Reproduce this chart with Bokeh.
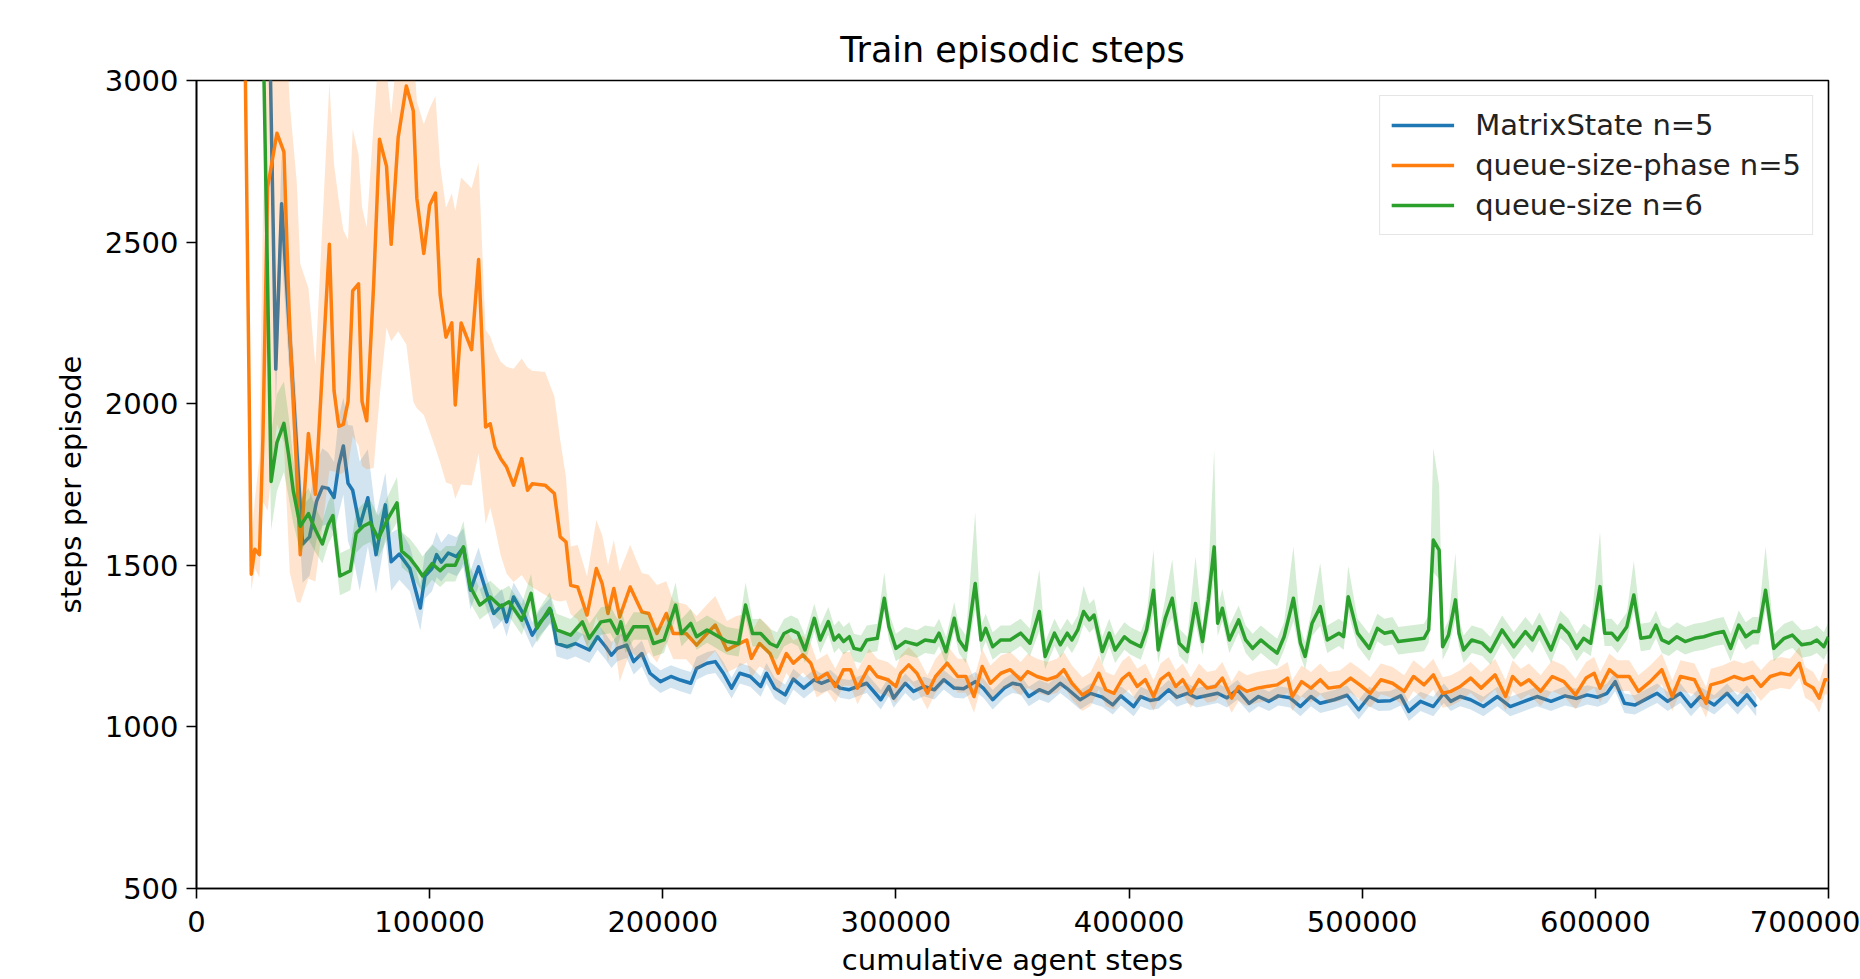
from bokeh.plotting import figure
from bokeh.models import FixedTicker, BasicTickFormatter
from bokeh.embed import file_html
from bokeh.resources import INLINE

TITLE = "Train episodic steps"
X_LABEL = "cumulative agent steps"
Y_LABEL = "steps per episode"
x_ticks = [0, 100000, 200000, 300000, 400000, 500000, 600000, 700000]
y_ticks = [500, 1000, 1500, 2000, 2500, 3000]
names = ["MatrixState n=5", "queue-size-phase n=5", "queue-size n=6"]
colors = ["#1f77b4", "#ff7f0e", "#2ca02c"]

# ---------------- MatrixState n=5 (blue) ----------------
blue_x = [
    30000, 34000, 36500, 45500, 48500, 51500, 54000, 56500, 59000, 61000,
    63000, 65000, 67000, 70000, 73500, 77000, 81000, 83500, 87000, 91500,
    96000, 98000, 101000, 103000, 105000, 108000, 111500, 114500, 117500, 121000,
    124500, 127500, 131000, 133000, 136000, 140500, 144000, 147500, 152000, 154500,
    159000, 162500, 165500, 168500, 172000, 175500, 178000, 180500, 184500, 187500,
    191000, 194500, 199000, 203500, 207500, 212000, 214500, 219000, 222500, 226000,
    229500, 233000, 237500, 242000, 244500, 248000, 252500, 256000, 260500, 265000,
    268000, 272000, 276000, 280000, 283500, 287500, 293500, 297000, 299000, 304000,
    307500, 312000, 316500, 320500, 325000, 329000, 334000, 337500, 341500, 346500,
    350000, 353500, 357000, 361500, 365500, 370500, 374000, 379000, 383500, 388500,
    393000, 396500, 402000, 405000, 409000, 412500, 417000, 420500, 425000, 429000,
    433500, 438000, 442000, 446500, 451500, 455500, 460000, 464000, 469000, 473500,
    478000, 482000, 488000, 493500, 498500, 503000, 507000, 512000, 516500, 520000,
    525000, 530500, 535000, 538000, 542000, 546500, 552000, 558000, 563500, 569500,
    575000, 581000, 587000, 592000, 596500, 601000, 605000, 608500, 612500, 617000,
    622500, 626500, 631000, 636500, 641000, 645000, 651000, 656500, 661000, 665000,
    669000,
]
blue_y = [
    3700, 2107, 2619, 1566, 1588, 1698, 1742, 1738, 1710, 1810,
    1869, 1754, 1732, 1621, 1709, 1533, 1687, 1511, 1535, 1490,
    1368, 1467, 1490, 1533, 1510, 1538, 1527, 1555, 1423, 1495,
    1413, 1351, 1377, 1325, 1402, 1346, 1284, 1325, 1361, 1258,
    1248, 1258, 1248, 1238, 1279, 1248, 1222, 1243, 1253, 1202,
    1227, 1166, 1140, 1156, 1145, 1135, 1181, 1197, 1202, 1166,
    1120, 1166, 1156, 1125, 1166, 1120, 1099, 1148, 1120, 1146,
    1135, 1146, 1120, 1115, 1125, 1135, 1084, 1125, 1089, 1135,
    1110, 1125, 1115, 1146, 1120, 1118, 1140, 1120, 1084, 1120,
    1135, 1130, 1094, 1115, 1104, 1135, 1115, 1084, 1104, 1092,
    1068, 1096, 1063, 1094, 1082, 1086, 1115, 1092, 1104, 1090,
    1097, 1104, 1090, 1115, 1073, 1094, 1079, 1096, 1090, 1063,
    1094, 1073, 1084, 1098, 1053, 1094, 1079, 1081, 1096, 1048,
    1079, 1063, 1104, 1079, 1094, 1084, 1063, 1094, 1063, 1079,
    1094, 1079, 1096, 1088, 1099, 1092, 1104, 1140, 1073, 1068,
    1089, 1104, 1079, 1104, 1063, 1094, 1068, 1104, 1068, 1099,
    1063,
]
blue_err = [
    80, 120, 150, 120, 120, 120, 120, 110, 110, 150,
    150, 180, 200, 200, 150, 120, 100, 90, 80, 70,
    70, 70, 70, 70, 60, 60, 60, 60, 60, 60,
    50, 50, 50, 45, 45, 45, 40, 40, 40, 40,
    40, 40, 40, 40, 40, 40, 40, 40, 40, 40,
    40, 35, 35, 35, 35, 35, 35, 35, 35, 35,
    32, 32, 32, 32, 32, 32, 32, 32, 32, 32,
    30, 30, 30, 30, 30, 30, 30, 30, 30, 30,
    30, 30, 30, 30, 30, 30, 30, 30, 30, 30,
    30, 30, 30, 30, 30, 30, 30, 30, 30, 30,
    30, 30, 30, 30, 30, 30, 30, 30, 30, 30,
    30, 30, 30, 30, 30, 30, 30, 30, 30, 30,
    30, 30, 30, 30, 30, 30, 30, 30, 30, 30,
    30, 30, 30, 30, 30, 30, 30, 30, 30, 30,
    30, 30, 30, 30, 30, 30, 30, 30, 30, 30,
    30, 30, 30, 30, 30, 30, 30, 30, 30, 30,
    30,
]

# ---------------- queue-size-phase n=5 (orange) ----------------
orange_x = [
    20000, 23500, 25000, 27000, 28500, 30500, 34500, 37500, 40000, 43000,
    44500, 48000, 51000, 57000, 59000, 61000, 63000, 65000, 67000, 69500,
    71000, 73000, 76000, 78500, 81500, 83500, 86500, 90000, 93000, 94500,
    97500, 100000, 102500, 104500, 107000, 109500, 111000, 113500, 118000, 121000,
    124000, 126000, 128000, 130500, 133000, 136000, 139500, 142000, 144000, 149500,
    153500, 156000, 158500, 160500, 163500, 167500, 171500, 174000, 176500, 179000,
    181500, 186000, 191000, 194000, 197500, 201500, 204500, 210000, 214500, 219000,
    222500, 227500, 231500, 236000, 238000, 241500, 246000, 249500, 253000, 256000,
    260000, 263500, 266000, 270500, 274000, 277500, 280500, 283500, 288500, 292000,
    296500, 300000, 302000, 305500, 309000, 313500, 317000, 322000, 326500, 330000,
    333500, 337000, 340500, 345000, 349000, 353500, 356500, 360500, 365000, 369000,
    372000, 375500, 380000, 383500, 387000, 390000, 393500, 397000, 400000, 403500,
    407000, 410500, 413500, 417000, 420000, 423000, 426500, 430000, 433500, 437000,
    440000, 444000, 447000, 450500, 455000, 459000, 463500, 468000, 470000, 474000,
    478000, 482000, 485500, 490500, 495000, 499000, 503500, 508000, 513000, 518000,
    522000, 526500, 530500, 534500, 538000, 542000, 546500, 551000, 557000, 561500,
    564500, 568000, 571500, 576500, 581500, 586500, 591500, 596000, 599500, 602000,
    606000, 609500, 614500, 618500, 623500, 628500, 633000, 636500, 642500, 647500,
    649500, 654500, 659500, 663500, 667500, 671000, 675000, 679500, 683500, 687500,
    690000, 693500, 696000, 698500, 700000,
]
orange_y = [
    3600, 1472, 1550, 1533, 1897, 2669, 2837, 2779, 2228, 1787,
    1533, 1908, 1720, 2493, 2040, 1930, 1936, 2007, 2349, 2371,
    2007, 1947, 2371, 2818, 2735, 2493, 2824, 2983, 2906, 2636,
    2465, 2614, 2652, 2338, 2206, 2250, 1996, 2250, 2167, 2446,
    1928, 1938, 1866, 1830, 1804, 1748, 1830, 1732, 1752, 1748,
    1722, 1588, 1572, 1438, 1433, 1346, 1490, 1443, 1351, 1428,
    1340, 1433, 1356, 1351, 1289, 1351, 1289, 1289, 1253, 1289,
    1315, 1238, 1253, 1269, 1212, 1258, 1227, 1166, 1227, 1197,
    1223, 1197, 1146, 1166, 1125, 1177, 1177, 1120, 1187, 1156,
    1146, 1125, 1166, 1192, 1166, 1104, 1156, 1197, 1156, 1156,
    1094, 1187, 1135, 1166, 1177, 1146, 1171, 1156, 1146, 1156,
    1177, 1135, 1099, 1115, 1166, 1115, 1104, 1148, 1166, 1125,
    1146, 1094, 1146, 1166, 1125, 1146, 1104, 1146, 1120, 1125,
    1151, 1089, 1125, 1110, 1120, 1125, 1130, 1151, 1094, 1140,
    1120, 1146, 1120, 1125, 1151, 1130, 1104, 1146, 1135, 1110,
    1156, 1130, 1161, 1104, 1110, 1125, 1151, 1120, 1161, 1094,
    1156, 1130, 1146, 1110, 1156, 1140, 1099, 1151, 1166, 1120,
    1177, 1156, 1156, 1110, 1140, 1177, 1094, 1156, 1146, 1073,
    1130, 1140, 1156, 1146, 1156, 1125, 1156, 1166, 1161, 1197,
    1135, 1120, 1089, 1146, 1146,
]
orange_err_lo = [
    100, 50, 60, 70, 200, 1000, 900, 900, 750, 400,
    150, 450, 270, 700, 250, 150, 150, 200, 450, 500,
    200, 150, 570, 800, 500, 300, 600, 800, 900, 650,
    500, 700, 790, 520, 450, 500, 290, 500, 420, 600,
    300, 260, 250, 300, 330, 300, 360, 290, 320, 340,
    330, 200, 180, 90, 100, 100, 150, 150, 150, 150,
    200, 200, 150, 120, 90, 90, 80, 80, 80, 80,
    80, 70, 70, 70, 60, 70, 60, 60, 60, 60,
    55, 55, 55, 55, 50, 50, 50, 50, 50, 50,
    50, 50, 50, 50, 50, 50, 50, 50, 50, 50,
    50, 50, 50, 50, 50, 50, 50, 50, 50, 50,
    50, 50, 50, 50, 50, 50, 50, 50, 50, 50,
    45, 45, 45, 45, 45, 45, 45, 45, 45, 45,
    45, 45, 45, 45, 45, 45, 45, 45, 45, 45,
    45, 45, 45, 45, 45, 45, 45, 45, 45, 45,
    45, 45, 45, 45, 45, 45, 45, 45, 45, 45,
    45, 45, 45, 45, 45, 45, 45, 45, 45, 45,
    45, 45, 45, 45, 45, 45, 45, 45, 45, 45,
    45, 45, 45, 45, 45, 45, 45, 45, 45, 45,
    45, 45, 45, 45, 45,
]
orange_err_hi = [
    200, 100, 150, 300, 700, 500, 500, 500, 700, 900,
    900, 450, 400, 500, 700, 700, 600, 500, 500, 400,
    600, 600, 500, 300, 300, 400, 300, 200, 200, 300,
    400, 300, 300, 400, 400, 400, 600, 450, 500, 300,
    300, 270, 300, 300, 310, 360, 310, 380, 350, 350,
    300, 300, 200, 120, 130, 120, 150, 150, 150, 150,
    140, 130, 120, 120, 150, 100, 100, 90, 90, 90,
    90, 90, 90, 80, 80, 80, 80, 70, 70, 70,
    60, 60, 60, 60, 55, 55, 55, 55, 55, 55,
    55, 55, 55, 55, 55, 55, 55, 55, 55, 55,
    55, 55, 55, 55, 55, 55, 55, 55, 55, 55,
    55, 55, 55, 55, 55, 55, 55, 55, 55, 55,
    50, 50, 50, 50, 50, 50, 50, 50, 50, 50,
    50, 50, 50, 50, 50, 50, 50, 50, 50, 50,
    50, 50, 50, 50, 50, 50, 50, 50, 50, 50,
    50, 50, 50, 50, 50, 50, 50, 50, 50, 50,
    50, 50, 50, 50, 50, 50, 50, 50, 50, 50,
    50, 50, 50, 50, 50, 50, 50, 50, 50, 50,
    50, 50, 50, 50, 50, 50, 50, 50, 50, 50,
    50, 50, 50, 50, 50,
]

# ---------------- queue-size n=6 (green) ----------------
green_x = [
    27000, 32000, 34500, 37500, 39500, 41500, 44500, 48000, 51000, 54000,
    56500, 58500, 61500, 66000, 68500, 71500, 74500, 78000, 82000, 86000,
    88000, 91500, 94500, 97000, 101000, 104500, 107000, 111000, 114500, 117500,
    121500, 126000, 130500, 134000, 139500, 143500, 146000, 151500, 154500, 160500,
    165500, 168500, 173500, 177500, 180500, 182000, 184000, 187500, 193500, 196000,
    200500, 205500, 208000, 212000, 214500, 219000, 224000, 227500, 232500, 235500,
    238500, 242000, 246000, 249000, 252000, 255000, 258000, 261000, 265000, 267500,
    271000, 273500, 275500, 277500, 280000, 282000, 285000, 287500, 292000, 295000,
    297000, 300000, 304000, 309000, 312500, 316500, 318500, 321500, 325000, 327000,
    330000, 334000, 336500, 338500, 341500, 345000, 349000, 353500, 357500, 361500,
    364000, 368000, 370500, 373500, 375500, 378000, 380500, 383000, 385000, 388500,
    391500, 394000, 398000, 400500, 405000, 407500, 410500, 412500, 415500, 418500,
    421500, 425000, 428500, 431500, 434000, 436500, 438000, 440000, 443000, 447000,
    450000, 453000, 456500, 460000, 463500, 466500, 470500, 473500, 475500, 478500,
    482000, 485000, 490000, 492000, 494000, 498000, 503000, 506500, 509500, 513000,
    515500, 520500, 526500, 528500, 530500, 533000, 534500, 537000, 540000, 541500,
    543500, 547000, 551500, 555000, 560000, 565000, 570000, 573000, 576000, 581000,
    585000, 588500, 592000, 595000, 598000, 602000, 604000, 607000, 609500, 613500,
    616500, 619500, 623500, 626000, 628500, 631500, 635000, 638500, 642500, 646500,
    651500, 655000, 658000, 661500, 664500, 667500, 670000, 673000, 676500, 681000,
    684500, 688500, 692500, 695000, 698000, 700000,
]
green_y = [
    3800, 1759, 1880, 1939, 1842, 1731, 1621, 1660, 1610, 1566,
    1626, 1654, 1467, 1483, 1599, 1621, 1632, 1583, 1643, 1693,
    1544, 1522, 1494, 1467, 1505, 1483, 1500, 1500, 1557, 1433,
    1377, 1402, 1372, 1387, 1330, 1413, 1305, 1367, 1300, 1284,
    1325, 1274, 1325, 1330, 1289, 1325, 1269, 1310, 1310, 1258,
    1269, 1377, 1289, 1320, 1279, 1300, 1279, 1264, 1258, 1377,
    1289, 1289, 1258, 1248, 1289, 1300, 1290, 1238, 1336, 1269,
    1326, 1269, 1284, 1264, 1279, 1243, 1238, 1269, 1274, 1398,
    1310, 1243, 1264, 1254, 1269, 1264, 1290, 1233, 1336, 1269,
    1238, 1444, 1269, 1305, 1248, 1269, 1269, 1290, 1259, 1357,
    1218, 1290, 1254, 1290, 1269, 1300, 1357, 1331, 1346, 1233,
    1290, 1238, 1279, 1264, 1248, 1300, 1423, 1238, 1336, 1398,
    1259, 1233, 1382, 1264, 1393, 1557, 1321, 1367, 1269, 1331,
    1269, 1243, 1269, 1248, 1228, 1279, 1398, 1259, 1218, 1321,
    1372, 1269, 1290, 1279, 1403, 1290, 1243, 1305, 1290, 1295,
    1264, 1269, 1274, 1300, 1578, 1547, 1248, 1284, 1393, 1290,
    1238, 1269, 1259, 1233, 1300, 1248, 1295, 1269, 1310, 1238,
    1315, 1290, 1243, 1274, 1259, 1434, 1290, 1290, 1269, 1310,
    1408, 1274, 1279, 1315, 1269, 1259, 1279, 1264, 1274, 1279,
    1290, 1295, 1243, 1315, 1279, 1295, 1295, 1423, 1243, 1274,
    1284, 1254, 1259, 1269, 1248, 1279,
]
green_err_lo = [
    150, 150, 150, 150, 130, 100, 80, 80, 70, 60,
    60, 60, 60, 60, 60, 60, 60, 60, 60, 60,
    50, 50, 50, 50, 50, 50, 50, 50, 50, 50,
    45, 45, 45, 45, 45, 45, 45, 45, 45, 45,
    40, 40, 40, 40, 40, 40, 40, 40, 40, 40,
    40, 40, 40, 40, 40, 40, 40, 40, 40, 40,
    40, 40, 40, 40, 40, 40, 40, 40, 40, 40,
    40, 40, 40, 40, 40, 40, 40, 40, 40, 40,
    40, 40, 40, 40, 40, 40, 40, 40, 40, 40,
    40, 80, 40, 40, 40, 40, 40, 40, 40, 60,
    40, 40, 40, 40, 40, 40, 40, 40, 40, 40,
    40, 40, 40, 40, 40, 40, 70, 40, 40, 60,
    40, 40, 60, 40, 60, 100, 40, 40, 40, 40,
    40, 40, 40, 40, 40, 40, 70, 40, 40, 40,
    60, 40, 40, 40, 50, 40, 40, 40, 40, 40,
    40, 40, 40, 40, 100, 90, 40, 40, 60, 40,
    40, 40, 40, 40, 40, 40, 40, 40, 40, 40,
    40, 40, 40, 40, 40, 70, 40, 40, 40, 40,
    50, 40, 40, 40, 40, 40, 40, 40, 40, 40,
    40, 40, 40, 40, 40, 40, 40, 60, 40, 40,
    40, 40, 40, 40, 40, 40,
]
green_err_hi = [
    150, 150, 150, 130, 120, 100, 80, 80, 70, 70,
    70, 70, 70, 70, 70, 70, 70, 70, 70, 80,
    60, 60, 60, 60, 60, 60, 60, 60, 80, 60,
    50, 50, 50, 50, 50, 60, 50, 50, 50, 50,
    45, 45, 45, 45, 45, 45, 45, 45, 45, 45,
    45, 70, 45, 45, 45, 45, 45, 45, 45, 70,
    45, 45, 45, 45, 45, 45, 45, 45, 45, 45,
    45, 45, 45, 45, 45, 45, 45, 45, 45, 80,
    45, 45, 45, 45, 45, 45, 45, 45, 50, 45,
    45, 220, 45, 45, 45, 45, 45, 45, 45, 130,
    45, 45, 45, 45, 45, 45, 80, 50, 50, 45,
    45, 45, 45, 45, 45, 45, 125, 45, 60, 120,
    45, 45, 145, 45, 80, 300, 45, 60, 45, 45,
    45, 45, 45, 45, 45, 45, 160, 45, 45, 45,
    135, 45, 45, 45, 95, 45, 45, 45, 45, 45,
    45, 45, 45, 45, 285, 200, 45, 45, 145, 45,
    45, 45, 45, 45, 45, 45, 45, 45, 45, 45,
    45, 45, 45, 45, 45, 170, 45, 45, 45, 45,
    105, 45, 45, 45, 45, 45, 45, 45, 45, 45,
    45, 45, 45, 45, 45, 45, 45, 135, 45, 45,
    45, 45, 45, 45, 45, 45,
]

FONT = "DejaVu Sans"
TXT = "29px"

p = figure(width=1860, height=979, x_range=(0, 700000), y_range=(500, 3000),
           output_backend="svg", toolbar_location=None, title=TITLE,
           min_border_left=196, min_border_right=32, min_border_top=80,
           min_border_bottom=90)
p.background_fill_color = "white"
p.border_fill_color = "white"
p.xgrid.visible = False
p.ygrid.visible = False
p.outline_line_color = "black"
p.outline_line_width = 1.6

p.title.text = TITLE
p.title.align = "center"
p.title.text_font = FONT
p.title.text_font_size = "35px"
p.title.text_font_style = "normal"
p.title.text_color = "black"
p.title.standoff = 21

def add_series(xs, ys, lo, hi, color, name):
    y1 = [y - e for y, e in zip(ys, lo)]
    y2 = [y + e for y, e in zip(ys, hi)]
    p.varea(x=xs, y1=y1, y2=y2, fill_color=color, fill_alpha=0.2)
    p.line(xs, ys, line_color=color, line_width=3.5, line_join="round",
           legend_label=name)

add_series(blue_x, blue_y, blue_err, blue_err, colors[0], names[0])
add_series(orange_x, orange_y, orange_err_lo, orange_err_hi, colors[1], names[1])
add_series(green_x, green_y, green_err_lo, green_err_hi, colors[2], names[2])

for ax, ticks, lab in ((p.xaxis[0], x_ticks, X_LABEL), (p.yaxis[0], y_ticks, Y_LABEL)):
    ax.ticker = FixedTicker(ticks=ticks, minor_ticks=[])
    ax.formatter = BasicTickFormatter(use_scientific=False)
    ax.axis_label = lab
    ax.axis_label_text_font = FONT
    ax.axis_label_text_font_size = TXT
    ax.axis_label_text_font_style = "normal"
    ax.axis_label_text_color = "black"
    ax.major_label_text_font = FONT
    ax.major_label_text_font_size = TXT
    ax.major_label_text_color = "black"
    ax.axis_line_color = "black"
    ax.axis_line_width = 1.6
    ax.major_tick_line_color = "black"
    ax.major_tick_line_width = 1.6
    ax.major_tick_out = 10
    ax.major_tick_in = 0
    ax.minor_tick_out = 0
    ax.minor_tick_in = 0
    ax.major_label_standoff = 8

p.xaxis[0].major_label_standoff = 12
p.xaxis[0].axis_label_standoff = 8
p.yaxis[0].axis_label_standoff = 14

lg = p.legend[0]
lg.location = "top_right"
lg.margin = 15
lg.padding = 11
lg.spacing = 4
lg.glyph_width = 63
lg.glyph_height = 36
lg.label_height = 36
lg.label_standoff = 21
lg.label_text_font = FONT
lg.label_text_font_size = TXT
lg.label_text_color = "#222222"
lg.border_line_color = "#cccccc"
lg.border_line_width = 1.5
lg.background_fill_alpha = 0.8

open("out.html", "w").write(file_html(p, INLINE))
